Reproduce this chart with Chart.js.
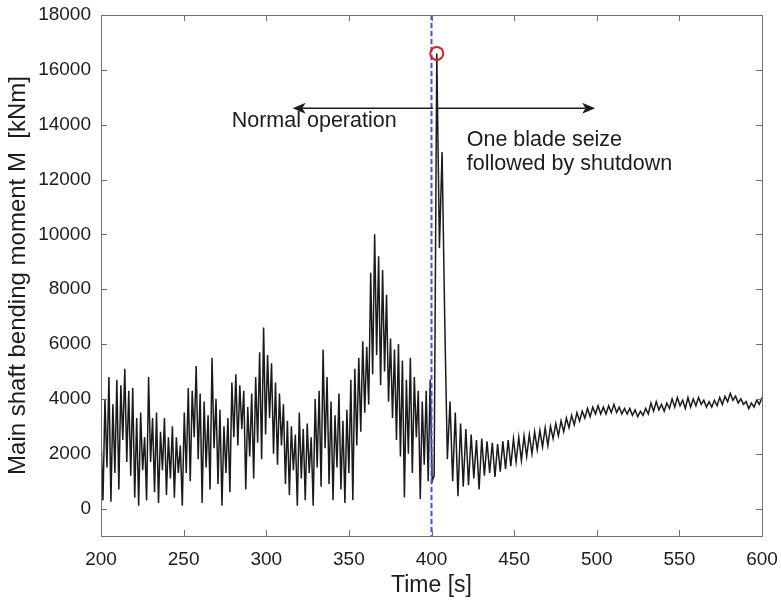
<!DOCTYPE html>
<html>
<head>
<meta charset="utf-8">
<script src="https://cdn.jsdelivr.net/npm/chart.js@4.4.1/dist/chart.umd.min.js"></script>
<style>
  html, body { margin: 0; padding: 0; background: #ffffff; }
  #wrap { width: 781px; height: 602px; }
</style>
</head>
<body>
<div id="wrap"><canvas id="chart" width="781" height="602"></canvas></div>
<script>
// Main shaft bending moment during normal operation: one sample every normalStep seconds
const normalStart = 200;  // s
const normalStep = 1.2;   // s
const normalMoment = [
  2600, 300, 4000, 1500, 4800, 250, 3800, 1300, 4700, 700,
  4500, 2500, 5100, 1700, 4300, 1200, 4400, 400, 3300, 100,
  3500, 1400, 2600, 300, 4800, 1700, 3300, 600, 3500, 200,
  2800, 1400, 3300, 500, 2600, 1100, 3000, 400, 2600, 1300,
  2300, 100, 3500, 1300, 4400, 1000, 4300, 2600, 5200, 1800,
  4200, 200, 3900, 1500, 3400, 700, 5500, 2200, 4000, 900,
  3600, 100, 3000, 1300, 3300, 600, 4600, 2600, 4900, 2300,
  4500, 2900, 4300, 700, 3700, 1900, 4200, 1100, 4800, 2400,
  5700, 1800, 6600, 2700, 5600, 3300, 5300, 2000, 4600, 1600,
  4200, 2300, 3800, 900, 3200, 500, 3000, 1400, 2700, 100,
  3500, 1100, 2900, 300, 3100, 1300, 2600, 100, 4000, 1500,
  4300, 800, 5800, 2200, 4800, 900, 3900, 300, 3400, 1500,
  4200, 700, 3200, 200, 3600, 1300, 4700, 300, 5100, 2300,
  5500, 2800, 6100, 3500, 5900, 3800, 8600, 4900, 10000, 5600,
  9200, 4500, 8700, 5000, 7800, 3900, 6200, 3300, 5800, 2500,
  6000, 1900, 5400, 400, 4700, 2000, 5500, 1300, 4800, 2600,
  4300, 350, 3900, 1600, 4300, 1000, 4700, 1000
];

// Blade seize, shutdown and idling: one sample every eventStep seconds
const eventStart = 401.6; // s
const eventStep = 1.6;    // s
const eventMoment = [
  1200, 16600, 9500, 13000,
  6900, 1800, 3900, 1000, 3500, 450, 3100, 800, 2900, 850,
  2700, 1100, 2500, 700, 2550, 1200, 2450, 1300, 2400, 1150,
  2350, 1350, 2450, 1450, 2500, 1550, 2550, 1700, 2600, 1750,
  2650, 1900, 2700, 2000, 2800, 2150, 2850, 2250, 2950, 2300,
  3000, 2550, 3100, 2650, 3200, 2800, 3300, 2950, 3400, 3050,
  3500, 3200, 3550, 3300, 3650, 3350, 3700, 3450, 3750, 3450,
  3700, 3450, 3750, 3500, 3800, 3500, 3700, 3450, 3650, 3450,
  3650, 3400, 3600, 3350, 3550, 3400, 3650, 3450, 3850, 3550,
  3900, 3600, 3800, 3550, 3850, 3650, 4000, 3700, 4050, 3750,
  3950, 3650, 4050, 3700, 4000, 3750, 4050, 3800, 3950, 3700,
  3900, 3700, 3950, 3750, 4050, 3800, 4100, 3900, 4200, 3950,
  4100, 3850, 4000, 3800, 3900, 3650, 3850, 3700, 3950, 3800,
  4050
];

const xTickValues = [200, 250, 300, 350, 400, 450, 500, 550, 600];
const yTickValues = [0, 2000, 4000, 6000, 8000, 10000, 12000, 14000, 16000, 18000];

// Annotation anchors (data units)
const seizeTime = 400;
const arrowLevel = 14600;
const normalArrowTip = 316;
const seizeArrowTip = 499;
const normalLabel = { text: ['Normal operation'], t: 279.1, levels: [13925] };
const seizeLabel = { text: ['One blade seize', 'followed by shutdown'], t: 421.3, levels: [13225, 12350] };

const FONT = "'Liberation Sans', Arial, Helvetica, sans-serif";
const INK = '#1c1c1c';

const toPoints = (start, step, values) =>
  values.map((v, i) => ({ x: Math.round((start + i * step) * 10) / 10, y: v }));
const signal = toPoints(normalStart, normalStep, normalMoment)
  .concat(toPoints(eventStart, eventStep, eventMoment));
const peak = signal.reduce((a, b) => (b.y > a.y ? b : a));

function drawArrow(ctx, x0, y, x1) {
  const dir = Math.sign(x1 - x0);
  const L = 13, W = 5.5, notch = 3.5;
  ctx.beginPath();
  ctx.moveTo(x0, y);
  ctx.lineTo(x1 - dir * (L - notch), y);
  ctx.stroke();
  ctx.beginPath();
  ctx.moveTo(x1, y);
  ctx.lineTo(x1 - dir * L, y - W);
  ctx.lineTo(x1 - dir * (L - notch), y);
  ctx.lineTo(x1 - dir * L, y + W);
  ctx.closePath();
  ctx.fill();
}

const decorations = {
  id: 'decorations',
  afterDatasetDraw(chart, args) {
    if (args.index !== 0) return;
    // dashed marker of the blade seize instant
    const { ctx, chartArea: a, scales: { x } } = chart;
    const px = x.getPixelForValue(seizeTime);
    ctx.save();
    ctx.strokeStyle = '#3f51d6';
    ctx.lineWidth = 2;
    ctx.setLineDash([5, 3]);
    ctx.beginPath();
    ctx.moveTo(px, a.top);
    ctx.lineTo(px, a.bottom);
    ctx.stroke();
    ctx.restore();
  },
  afterDatasetsDraw(chart) {
    const { ctx, chartArea: a, scales: { x, y } } = chart;
    ctx.save();

    // phase arrows
    const ay = y.getPixelForValue(arrowLevel);
    ctx.strokeStyle = INK;
    ctx.fillStyle = INK;
    ctx.lineWidth = 1.4;
    drawArrow(ctx, x.getPixelForValue(400.9), ay, x.getPixelForValue(normalArrowTip));
    drawArrow(ctx, x.getPixelForValue(404), ay, x.getPixelForValue(seizeArrowTip));

    // phase labels
    ctx.font = `21.5px ${FONT}`;
    ctx.textAlign = 'left';
    ctx.textBaseline = 'alphabetic';
    [normalLabel, seizeLabel].forEach(lbl => {
      lbl.text.forEach((s, k) => {
        ctx.fillText(s, x.getPixelForValue(lbl.t), y.getPixelForValue(lbl.levels[k]));
      });
    });

    // axes box with inward ticks on all sides
    ctx.strokeStyle = '#707070';
    ctx.lineWidth = 1;
    ctx.strokeRect(Math.round(a.left) + 0.5, Math.round(a.top) + 0.5,
                   Math.round(a.right - a.left), Math.round(a.bottom - a.top));
    const tl = 6;
    ctx.beginPath();
    x.ticks.forEach(t => {
      const p = Math.round(x.getPixelForValue(t.value)) + 0.5;
      ctx.moveTo(p, a.bottom); ctx.lineTo(p, a.bottom - tl);
      ctx.moveTo(p, a.top); ctx.lineTo(p, a.top + tl);
    });
    y.ticks.forEach(t => {
      const p = Math.round(y.getPixelForValue(t.value)) + 0.5;
      ctx.moveTo(a.left, p); ctx.lineTo(a.left + tl, p);
      ctx.moveTo(a.right, p); ctx.lineTo(a.right - tl, p);
    });
    ctx.stroke();
    ctx.restore();
  }
};

new Chart(document.getElementById('chart'), {
  type: 'line',
  data: {
    datasets: [
      {
        label: 'M',
        data: signal,
        borderColor: '#1a1a1a',
        borderWidth: 1.5,
        pointRadius: 0,
        tension: 0,
        order: 0
      },
      {
        label: 'peak',
        type: 'scatter',
        data: [peak],
        pointStyle: 'circle',
        pointRadius: 6.5,
        borderColor: '#e01b1b',
        borderWidth: 2,
        backgroundColor: 'rgba(0,0,0,0)',
        order: -1
      }
    ]
  },
  options: {
    responsive: false,
    devicePixelRatio: 1,
    animation: false,
    layout: { padding: { left: 0, right: 19, top: 15, bottom: 0 } },
    plugins: { legend: { display: false }, tooltip: { enabled: false } },
    scales: {
      x: {
        type: 'linear',
        min: 200,
        max: 600,
        afterBuildTicks: s => { s.ticks = xTickValues.map(v => ({ value: v })); },
        afterFit: s => { s.height = 66; s.paddingLeft = 0; s.paddingRight = 0; },
        grid: { display: false, drawTicks: false },
        border: { display: false },
        ticks: { font: { family: FONT, size: 19 }, color: INK, padding: 12, maxRotation: 0, autoSkip: false,
                 callback: v => String(v) },
        title: { display: true, text: 'Time [s]', color: INK, font: { family: FONT, size: 23 }, padding: { top: 0, bottom: 3 } }
      },
      y: {
        type: 'linear',
        min: -1000,
        max: 18000,
        afterBuildTicks: s => { s.ticks = yTickValues.map(v => ({ value: v })); },
        afterFit: s => { s.width = 101; s.paddingTop = 0; s.paddingBottom = 0; },
        grid: { display: false, drawTicks: false },
        border: { display: false },
        ticks: { font: { family: FONT, size: 19 }, color: INK, padding: 10, autoSkip: false,
                 callback: v => String(v) },
        title: { display: true, text: 'Main shaft bending moment M  [kNm]', color: INK, font: { family: FONT, size: 24 }, padding: { top: 4, bottom: 0 } }
      }
    }
  },
  plugins: [decorations]
});
</script>
</body>
</html>
